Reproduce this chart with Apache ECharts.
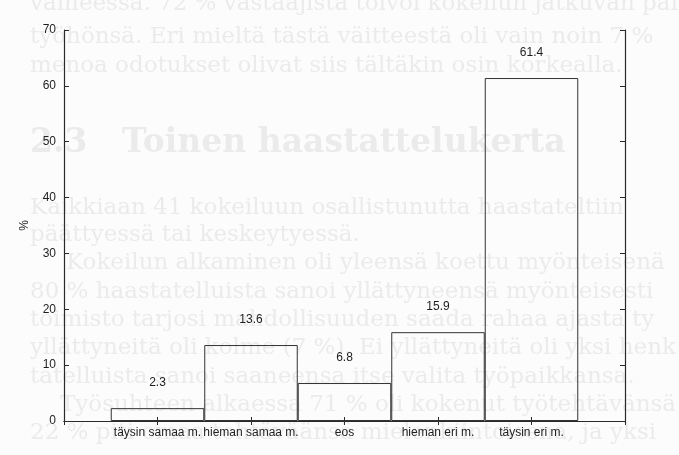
<!DOCTYPE html>
<html>
<head>
<meta charset="utf-8">
<script src="https://cdn.jsdelivr.net/npm/echarts@6/dist/echarts.min.js"></script>
<style>
  html, body { margin: 0; padding: 0; background: #fcfcfc; }
  #chart { width: 679px; height: 455px; }
</style>
</head>
<body>
<div id="chart"></div>
<script>
// vastausvaihtoehdot ja osuudet (%)
const categories = ['täysin samaa m.', 'hieman samaa m.', 'eos', 'hieman eri m.', 'täysin eri m.']
const percentages = [2.3, 13.6, 6.8, 15.9, 61.4]
const yMin = 0
const yMax = 70
const yStep = 10

// läpikuultava teksti paperin toiselta puolelta
const bgLines = [
  'vaiheessa. 72 % vastaajista toivoi kokeilun jatkuvan pai',
  'työhönsä. Eri mieltä tästä väitteestä oli vain noin 7 %',
  'menoa odotukset olivat siis tältäkin osin korkealla.',
  'Kaikkiaan 41 kokeiluun osallistunutta haastateltiin',
  'päättyessä tai keskeytyessä.',
  'Kokeilun alkaminen oli yleensä koettu myönteisenä',
  '80 % haastatelluista sanoi yllättyneensä myönteisesti',
  'toimisto tarjosi mahdollisuuden saada rahaa ajasta ty',
  'yllättyneitä oli kolme (7 %). Ei yllättyneitä oli yksi henk',
  'tatelluista sanoi saaneensa itse valita työpaikkansa.',
  'Työsuhteen alkaessa 71 % oli kokenut työtehtävänsä',
  '22 % piti omaa tehtäväänsä mielenkiintoisena, ja yksi'
]
const bgHeading = '2.3   Toinen haastattelukerta'

const chartDom = echarts.init(document.getElementById('chart'))

// tyhjät paikat molempiin päihin, pylväät tikkien kohdalle
const xData = [''].concat(categories, [''])
const yData = ['-'].concat(percentages, ['-'])

const bgColor = '#ebebeb'
const bgY = [4, 37, 66, 208, 235, 263, 292, 320, 348, 377, 405, 433]
const bgX = [30, 30, 30, 30, 30, 66, 30, 30, 30, 30, 60, 30]
const bgText = bgLines.map((t, i) => ({
  type: 'text',
  x: bgX[i],
  y: bgY[i],
  z: -10,
  silent: true,
  style: {
    text: t,
    font: '23px "DejaVu Serif"',
    fill: bgColor,
    verticalAlign: 'middle',
    shadowColor: bgColor,
    shadowBlur: 2
  }
}))
bgText.push({
  type: 'text',
  x: 30,
  y: 143,
  z: -10,
  silent: true,
  style: {
    text: bgHeading,
    font: 'bold 33px "DejaVu Serif"',
    fill: bgColor,
    verticalAlign: 'middle',
    shadowColor: bgColor,
    shadowBlur: 2
  }
})

const lineColor = '#2a2a2a'
const textStyle = { color: '#1e1e1e', fontSize: 12, fontFamily: 'Liberation Sans' }

const option = {
  animation: false,
  backgroundColor: '#fcfcfc',
  graphic: bgText,
  grid: { left: 64, right: 54, top: 30, bottom: 34 },
  xAxis: [
    {
      type: 'category',
      data: xData,
      boundaryGap: false,
      axisLine: { lineStyle: { color: lineColor, width: 1.2 } },
      axisTick: { inside: true, length: 4, interval: 0, lineStyle: { color: lineColor } },
      axisLabel: Object.assign({ interval: 0, margin: 6 }, textStyle),
      splitLine: { show: false }
    },
    {
      type: 'category',
      position: 'top',
      data: xData,
      boundaryGap: false,
      axisLine: { lineStyle: { color: lineColor, width: 1.2 } },
      axisTick: { inside: true, length: 4, interval: 0, lineStyle: { color: lineColor } },
      axisLabel: { show: false },
      splitLine: { show: false }
    }
  ],
  yAxis: [
    {
      type: 'value',
      min: yMin,
      max: yMax,
      interval: yStep,
      name: '%',
      nameLocation: 'middle',
      nameRotate: 90,
      nameGap: 33,
      nameTextStyle: textStyle,
      axisLine: { show: true, lineStyle: { color: lineColor, width: 1.2 } },
      axisTick: { show: true, inside: true, length: 5, lineStyle: { color: lineColor } },
      axisLabel: Object.assign({ margin: 8 }, textStyle),
      splitLine: { show: false }
    },
    {
      type: 'value',
      position: 'right',
      min: yMin,
      max: yMax,
      interval: yStep,
      axisLine: { show: true, lineStyle: { color: lineColor, width: 1.2 } },
      axisTick: { show: true, inside: true, length: 5, lineStyle: { color: lineColor } },
      axisLabel: { show: false },
      splitLine: { show: false }
    }
  ],
  series: [
    {
      type: 'bar',
      data: yData,
      xAxisIndex: 0,
      yAxisIndex: 0,
      barWidth: '100%',
      barCategoryGap: '0%',
      itemStyle: {
        color: 'rgba(0,0,0,0)',
        borderColor: '#333',
        borderWidth: 1
      },
      label: Object.assign({ show: true, position: 'top', distance: 19 }, textStyle)
    }
  ]
}
chartDom.setOption(option)
</script>
</body>
</html>
